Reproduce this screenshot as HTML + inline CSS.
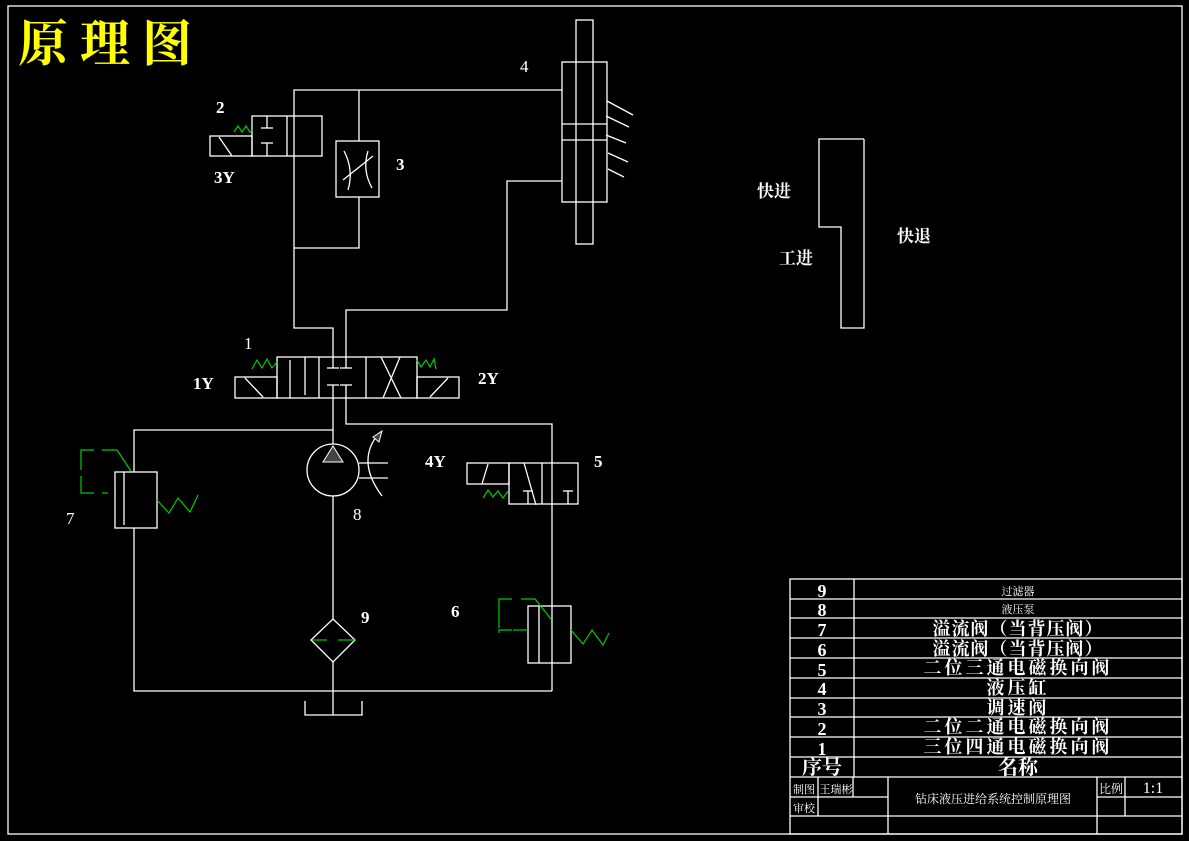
<!DOCTYPE html>
<html><head><meta charset="utf-8"><style>
html,body{margin:0;padding:0;background:#000;}
svg{display:block}
text{font-family:"Liberation Serif","Noto Serif CJK SC",serif;fill:#fff}
.c{font-family:"Liberation Serif","Noto Serif CJK SC","Noto Sans CJK SC",serif}
</style></head><body>
<svg width="1189" height="841" viewBox="0 0 1189 841" xmlns="http://www.w3.org/2000/svg">
<rect width="1189" height="841" fill="#000"/>
<g fill="none" stroke="#fff" stroke-width="1.3">
<rect x="8" y="6" width="1174" height="828"/>
<rect x="576" y="20" width="17" height="224"/>
<rect x="562" y="62" width="45" height="140"/>
<line x1="562" y1="124" x2="607" y2="124"/><line x1="562" y1="140" x2="607" y2="140"/>
<line x1="607" y1="101" x2="633" y2="115"/><line x1="606" y1="116" x2="629" y2="127"/>
<line x1="606" y1="135" x2="626" y2="143"/><line x1="608" y1="153" x2="628" y2="162"/>
<line x1="608" y1="169" x2="624" y2="177"/>
<polyline points="562,90 294,90 294,328 333,328 333,357"/>
<line x1="359" y1="90" x2="359" y2="141"/>
<polyline points="359,197 359,248 294,248"/>
<polyline points="346,357 346,310 507,310 507,181 562,181"/>
<rect x="252" y="116" width="70" height="40"/><line x1="287" y1="116" x2="287" y2="156"/>
<rect x="210" y="136" width="42" height="20"/>
<line x1="219" y1="137" x2="232" y2="156"/>
<line x1="261" y1="128" x2="273" y2="128"/><line x1="267" y1="116" x2="267" y2="128"/>
<line x1="261" y1="143" x2="273" y2="143"/><line x1="267" y1="143" x2="267" y2="156"/>
<rect x="336" y="141" width="43" height="56"/>
<path d="M344,151 Q354,170 348,190"/><path d="M368,151 Q362,170 372,188"/>
<line x1="343" y1="180" x2="373" y2="156"/>
<rect x="277" y="357" width="140" height="41"/>
<line x1="319" y1="357" x2="319" y2="398"/><line x1="366" y1="357" x2="366" y2="398"/>
<rect x="235" y="377" width="42" height="21"/><rect x="417" y="377" width="42" height="21"/>
<line x1="245" y1="378" x2="263" y2="397"/><line x1="448" y1="378" x2="430" y2="397"/>
<line x1="290" y1="360" x2="290" y2="398"/><line x1="305" y1="357" x2="305" y2="395"/>
<line x1="327" y1="368" x2="339" y2="368"/><line x1="333" y1="357" x2="333" y2="368"/>
<line x1="340" y1="368" x2="352" y2="368"/><line x1="346" y1="357" x2="346" y2="368"/>
<line x1="327" y1="385" x2="339" y2="385"/><line x1="333" y1="385" x2="333" y2="398"/>
<line x1="340" y1="385" x2="352" y2="385"/><line x1="346" y1="385" x2="346" y2="398"/>
<line x1="381" y1="357" x2="401" y2="398"/><line x1="400" y1="357" x2="383" y2="398"/>
<line x1="333" y1="398" x2="333" y2="444"/>
<polyline points="333,430 134,430 134,472"/>
<polyline points="346,398 346,424 552,424 552,691"/>
<circle cx="333" cy="470" r="26"/>
<line x1="359" y1="463" x2="388" y2="463"/><line x1="359" y1="478" x2="388" y2="478"/>
<path d="M380,432 Q355,460 382,496"/>
<line x1="333" y1="496" x2="333" y2="619"/>
<polygon points="333,619 355,640 333,662 311,640"/>
<line x1="333" y1="662" x2="333" y2="715"/>
<polyline points="305,701 305,715 362,715 362,701"/>
<polyline points="134,528 134,691 552,691"/>
<rect x="115" y="472" width="42" height="56"/><line x1="124" y1="472" x2="124" y2="525"/>
<rect x="528" y="606" width="43" height="57"/><line x1="539" y1="606" x2="539" y2="663"/>
<rect x="509" y="463" width="69" height="41"/><line x1="542" y1="463" x2="542" y2="504"/>
<rect x="467" y="463" width="42" height="21"/><line x1="488" y1="464" x2="482" y2="484"/>
<line x1="523" y1="491" x2="533" y2="491"/><line x1="528" y1="491" x2="528" y2="504"/>
<line x1="563" y1="491" x2="573" y2="491"/><line x1="568" y1="491" x2="568" y2="504"/>
<line x1="524" y1="463" x2="536" y2="505"/>
<polyline points="864,139 819,139 819,227 841,227 841,328 864,328 864,139"/>
<rect x="790" y="579" width="392" height="255"/>
<line x1="854" y1="579" x2="854" y2="777"/>
<line x1="790" y1="599" x2="1182" y2="599"/><line x1="790" y1="618" x2="1182" y2="618"/>
<line x1="790" y1="638" x2="1182" y2="638"/><line x1="790" y1="658" x2="1182" y2="658"/>
<line x1="790" y1="678" x2="1182" y2="678"/><line x1="790" y1="698" x2="1182" y2="698"/>
<line x1="790" y1="717" x2="1182" y2="717"/><line x1="790" y1="737" x2="1182" y2="737"/>
<line x1="790" y1="757" x2="1182" y2="757"/><line x1="790" y1="777" x2="1182" y2="777"/>
<line x1="790" y1="797" x2="888" y2="797"/><line x1="1097" y1="797" x2="1182" y2="797"/>
<line x1="790" y1="816" x2="1182" y2="816"/>
<line x1="818" y1="777" x2="818" y2="816"/><line x1="853" y1="777" x2="853" y2="797"/>
<line x1="888" y1="777" x2="888" y2="834"/><line x1="1097" y1="777" x2="1097" y2="834"/>
<line x1="1125" y1="777" x2="1125" y2="816"/>
</g>
<g fill="#fff">
<polygon points="333,446 323,462 343,462" fill="#444" stroke="#fff"/>
<polygon points="382,431 373,437 379,442" fill="#444" stroke="#fff"/>
</g>
<g fill="none" stroke="#0c0" stroke-width="1.2">
<polyline points="234,132 238,126 242,132 246,126 250,132 252,130"/>
<polyline points="252,369 257,360 262,368 267,359 272,368 277,362"/>
<polyline points="417,360 421,367 426,360 430,367 434,359 436,369"/>
<polyline points="483,498 488,490 493,497 498,491 503,498 508,491"/>
<polyline points="157,500 169,513 178,498 190,512 198,495"/>
<polyline points="571,630 583,644 592,630 603,645 609,633"/>
<polyline points="81,470 81,450 94,450"/><polyline points="102,450 117,450 131,471"/>
<polyline points="81,476 81,493 94,493"/><line x1="102" y1="493" x2="108" y2="493"/>
<polyline points="499,628 499,599 512,599"/><polyline points="521,599 535,599 551,619"/>
<polyline points="499,633 499,630 512,630"/><line x1="513" y1="630" x2="528" y2="630"/>
<line x1="312" y1="640" x2="327" y2="640"/><line x1="338" y1="640" x2="355" y2="640"/>
</g>
<text x="18" y="61" class="c" style="font-size:50px;font-weight:bold;fill:#ff0;letter-spacing:12px">原理图</text>
<g style="font-size:17px">
<text x="520" y="72">4</text><text x="216" y="113" font-weight="bold">2</text><text x="214" y="183" font-weight="bold">3Y</text>
<text x="396" y="170" font-weight="bold">3</text><text x="244" y="349">1</text><text x="193" y="389" font-weight="bold">1Y</text>
<text x="478" y="384" font-weight="bold">2Y</text><text x="425" y="467" font-weight="bold">4Y</text><text x="594" y="467" font-weight="bold">5</text>
<text x="66" y="524">7</text><text x="353" y="520">8</text><text x="361" y="623" font-weight="bold">9</text>
<text x="451" y="617" font-weight="bold">6</text>
</g>
<g class="c" style="font-size:17px;font-weight:bold">
<text x="757" y="197">快进</text><text x="779" y="264">工进</text><text x="897" y="242">快退</text>
</g>
<g style="font-size:18px;font-weight:bold" text-anchor="middle">
<text x="822" y="597">9</text><text x="822" y="616">8</text><text x="822" y="636">7</text>
<text x="822" y="656">6</text><text x="822" y="676">5</text><text x="822" y="695">4</text>
<text x="822" y="715">3</text><text x="822" y="735">2</text><text x="822" y="755">1</text>
</g>
<g class="c" text-anchor="middle" style="font-size:18px;font-weight:bold">
<text x="1018" y="595" style="font-size:11px;font-weight:normal">过滤器</text>
<text x="1018" y="613" style="font-size:11px;font-weight:normal">液压泵</text>
<text x="1018" y="635" letter-spacing="1">溢流阀（当背压阀）</text>
<text x="1018" y="655" letter-spacing="1">溢流阀（当背压阀）</text>
<text x="1018" y="674" letter-spacing="3">二位三通电磁换向阀</text>
<text x="1018" y="694" letter-spacing="3">液压缸</text>
<text x="1018" y="714" letter-spacing="3">调速阀</text>
<text x="1018" y="733" letter-spacing="3">二位二通电磁换向阀</text>
<text x="1018" y="753" letter-spacing="3">三位四通电磁换向阀</text>
<text x="822" y="774" style="font-size:20px">序号</text>
<text x="1018" y="774" style="font-size:20px">名称</text>
<text x="993" y="803" style="font-size:12px;font-weight:normal">钻床液压进给系统控制原理图</text>
<text x="804" y="793" style="font-size:11px;font-weight:normal">制图</text>
<text x="836" y="793" style="font-size:11px;font-weight:normal">王瑞彬</text>
<text x="804" y="812" style="font-size:11px;font-weight:normal">审校</text>
<text x="1111" y="793" style="font-size:12px;font-weight:normal">比例</text>
<text x="1153" y="793" style="font-size:16px;font-weight:normal">1:1</text>
</g>
</svg>
</body></html>
